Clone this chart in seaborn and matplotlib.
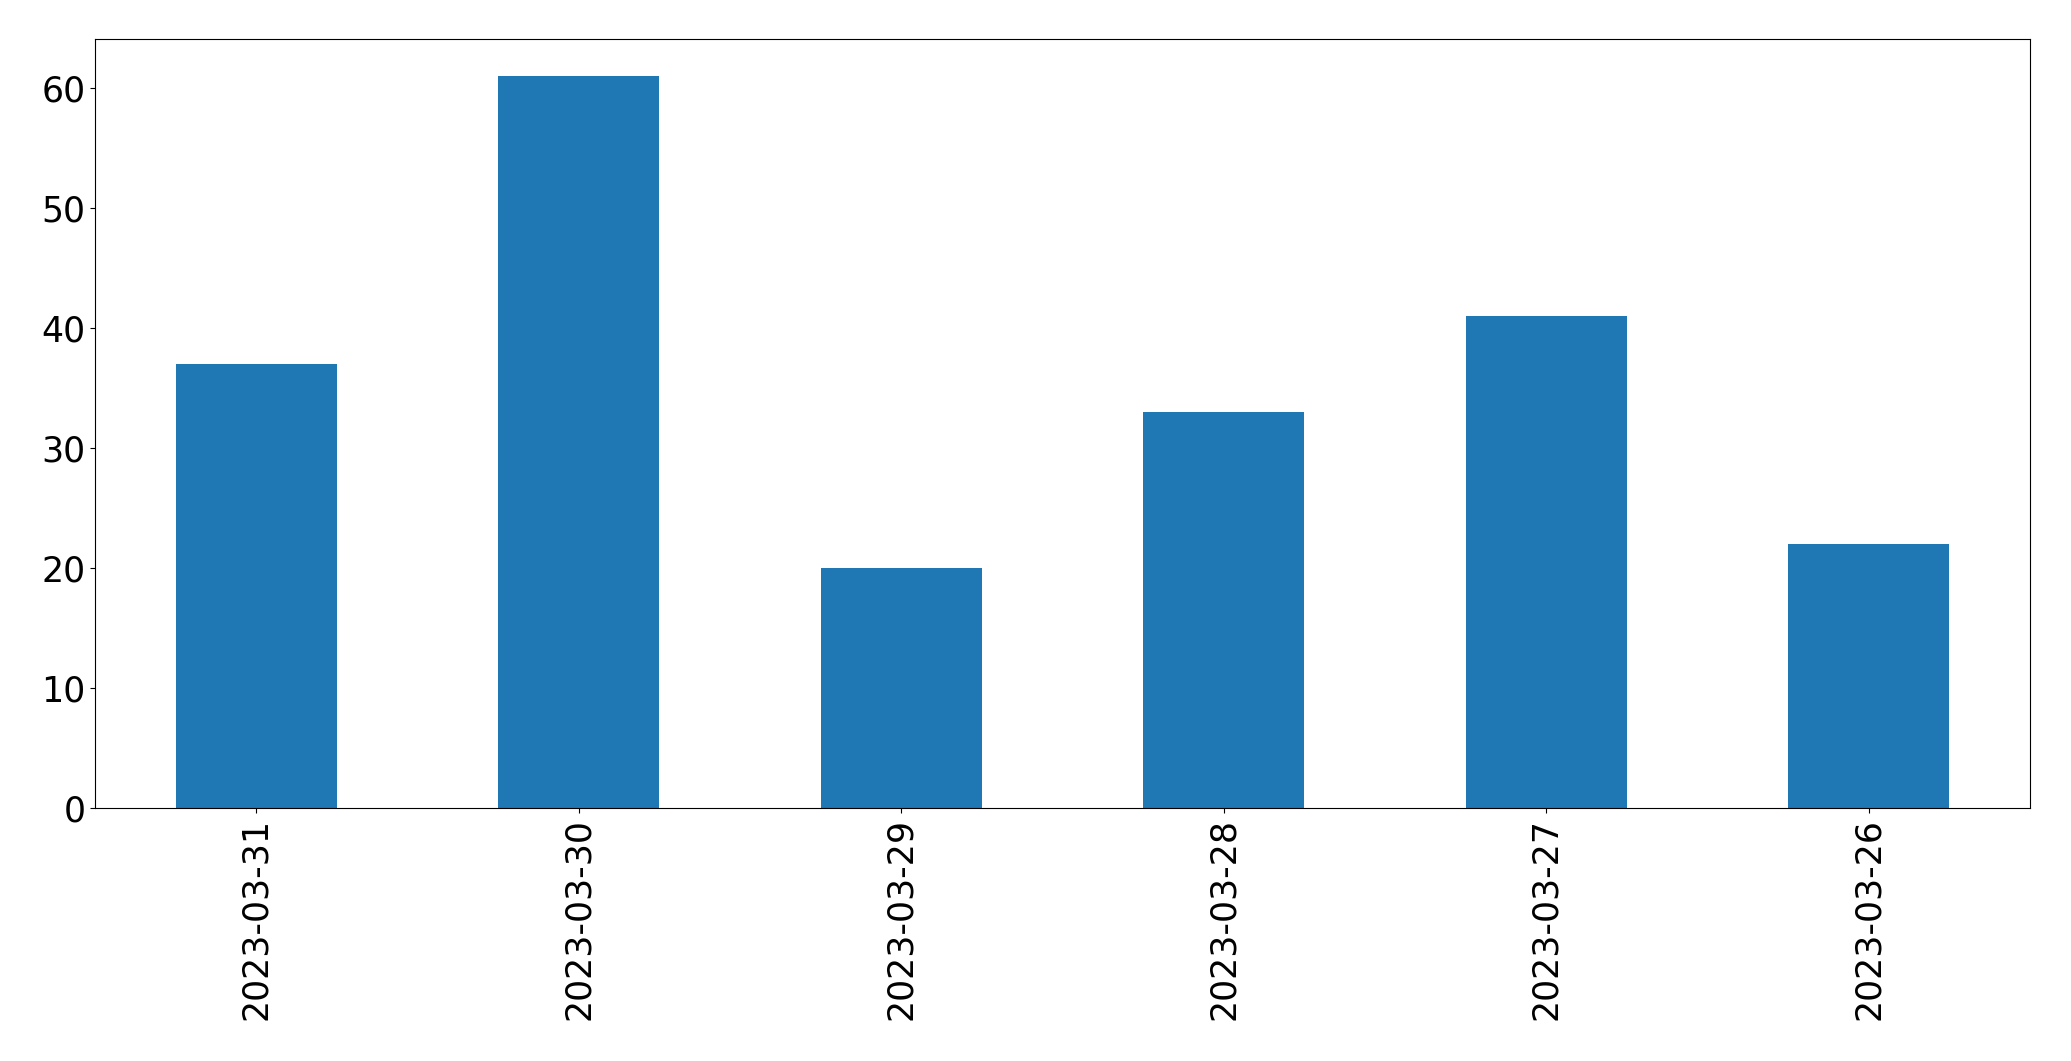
import matplotlib
matplotlib.use("Agg")
import matplotlib.pyplot as plt
import seaborn as sns
import pandas as pd

dates = ["2023-03-31", "2023-03-30", "2023-03-29", "2023-03-28", "2023-03-27", "2023-03-26"]
counts = [37, 61, 20, 33, 41, 22]

df = pd.DataFrame({"date": dates, "count": counts})

fig = plt.figure(figsize=(20.71, 10.61), dpi=100)
ax = fig.add_axes([95/2071, 1 - 808/1061, (2030-95)/2071, (808-39)/1061])
sns.barplot(data=df, x="date", y="count", order=dates, color="#1f77b4",
            saturation=1, width=0.5, ax=ax)
ax.set_xlim(-0.5, len(dates) - 0.5)
ax.set_xlabel("")
ax.set_ylabel("")
ax.tick_params(axis="both", labelsize=25)
ax.tick_params(axis="x", labelrotation=90)
fig.savefig("out.png", dpi=100)
